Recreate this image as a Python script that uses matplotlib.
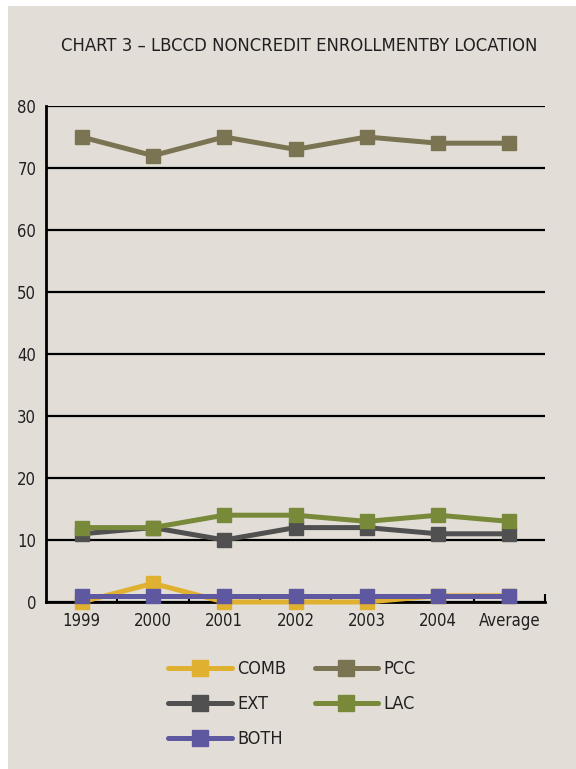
import numpy as np
import matplotlib.pyplot as plt
from matplotlib.patches import Rectangle

plt.rcParams['font.family'] = ['DejaVu Sans']
plt.rcParams['font.stretch'] = 'condensed'

# Enrollment by location (thousands)
years = ['1999', '2000', '2001', '2002', '2003', '2004', 'Average']
comb = [0, 3, 0, 0, 0, 1, 1]
pcc = [75, 72, 75, 73, 75, 74, 74]
ext = [11, 12, 10, 12, 12, 11, 11]
lac = [12, 12, 14, 14, 13, 14, 13]
both = [1, 1, 1, 1, 1, 1, 1]

colors = {'COMB': '#E0B030', 'PCC': '#7A7453', 'EXT': '#505050',
          'LAC': '#788A3A', 'BOTH': '#5E58A0'}
txt = '#231F20'
bg = '#E2DED7'

fig = plt.figure(figsize=(5.76, 7.69), dpi=100, facecolor='white')
# beige panel behind everything
fig.patches.append(Rectangle((8/576, 0), 1, 1 - 6/769, transform=fig.transFigure,
                             facecolor=bg, edgecolor='none', zorder=-10))

ax = fig.add_axes([46/576, 1 - 602/769, (545 - 46)/576, (602 - 106)/769])
ax.set_facecolor('none')

x = np.arange(len(years))
lines = {}
for name, vals in [('PCC', pcc), ('EXT', ext), ('LAC', lac),
                   ('COMB', comb), ('BOTH', both)]:
    ln, = ax.plot(x, vals, color=colors[name], lw=3.6, marker='s', ms=10.5,
                  mec=colors[name], solid_capstyle='round', clip_on=False,
                  zorder=3, label=name)
    lines[name] = ln

ax.set_xlim(-0.5, 6.5)
ax.set_ylim(0, 80)
ax.set_yticks(range(0, 81, 10))
ax.set_xticks(x)
ax.set_xticklabels(years)
ax.set_xticks(np.arange(0.5, 7, 1), minor=True)
ax.tick_params(axis='x', which='major', length=0, pad=7, labelsize=12, labelcolor=txt)
ax.tick_params(axis='x', which='minor', direction='in', length=6, width=1.5, color='black')
ax.tick_params(axis='y', length=0, pad=7, labelsize=12, labelcolor=txt)

ax.yaxis.grid(True, color='black', lw=1.6)
ax.set_axisbelow(True)
for s in ['top', 'right']:
    ax.spines[s].set_visible(False)
for s in ['left', 'bottom']:
    ax.spines[s].set_color('black')
    ax.spines[s].set_linewidth(2)

fig.text(299/576, 1 - 46/769, 'CHART 3 \u2013 LBCCD NONCREDIT ENROLLMENTBY LOCATION',
         ha='center', va='center', fontsize=13.2, color=txt)

order = ['COMB', 'EXT', 'BOTH', 'PCC', 'LAC']
leg = fig.legend([lines[n] for n in order], order, ncol=2, loc='center',
                 bbox_to_anchor=(292/576, 1 - 704/769), frameon=False,
                 fontsize=13, handlelength=3.5, labelspacing=0.95,
                 columnspacing=1.6, handletextpad=0.3, markerscale=1.05)
for t in leg.get_texts():
    t.set_color(txt)

fig.savefig('out.png', dpi=100, facecolor='white')
